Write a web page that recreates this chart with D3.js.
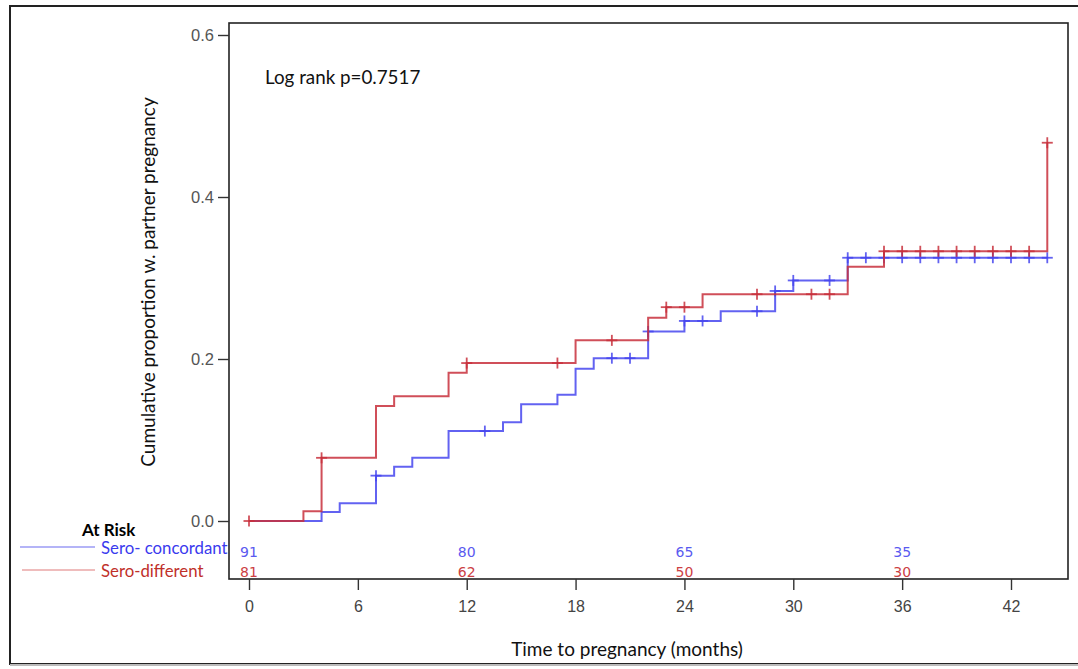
<!DOCTYPE html>
<html><head><meta charset="utf-8">
<script src="https://cdn.jsdelivr.net/npm/d3@7"></script>
<style>body{margin:0;background:#fff}svg{display:block}</style>
</head><body>
<svg id="c" width="1078" height="669"></svg>
<script>
// ---- data ----
const blueTimes = [0,4,5,7,8,9,11,14,15,17,18,19,22,24,26,29,30,33];
const blueVals  = [0,0.011,0.022,0.056,0.067,0.078,0.111,0.122,0.144,0.156,0.188,0.201,0.234,0.247,0.259,0.284,0.297,0.325];
const blueEnd = 44;
const blueCensor = [7,13,20,21,22,24,25,28,29,30,32,33,34,35,36,37,38,39,40,41,42,43,44];

const redTimes = [0,3,4,7,8,11,12,18,22,23,25,33,35,44];
const redVals  = [0,0.012,0.078,0.142,0.154,0.183,0.195,0.223,0.251,0.264,0.280,0.314,0.333,0.467];
const redEnd = 44;
const redCensor = [0,4,12,17,20,23,24,28,31,32,35,36,37,38,39,40,41,42,43,44];

const xTicks = [0,6,12,18,24,30,36,42];
const yTicks = [0,0.2,0.4,0.6];
const riskTimes = [0,12,24,36];
const riskBlue = [91,80,65,35];
const riskRed = [81,62,50,30];
const groupNames = ["Sero- concordant","Sero-different"];
const pText = "Log rank p=0.7517";

// ---- layout ----
const svg = d3.select("#c");
const L=229, R=1068, T=23, B=579;
const x = d3.scaleLinear().domain([0,42]).range([249,1011]);
const y = d3.scaleLinear().domain([0,0.6]).range([521,35]);
const BLUE="#4646ee", RED="#c8303c";
const TF = "Lato, Open Sans, sans-serif";

// outer border
svg.append("rect").attr("x",10).attr("y",6).attr("width",1080).attr("height",658)
  .attr("fill","none").attr("stroke","#222").attr("stroke-width",2);
svg.append("line").attr("x1",10).attr("x2",1078).attr("y1",665).attr("y2",665).attr("stroke","#bbb").attr("stroke-width",2);
// plot frame
svg.append("rect").attr("x",L).attr("y",T).attr("width",R-L).attr("height",B-T)
  .attr("fill","none").attr("stroke","#222").attr("stroke-width",1.6);

// axes
const yAxis = d3.axisLeft(y).tickValues(yTicks).tickFormat(d3.format(".1f")).tickSize(11).tickPadding(4);
const gy = svg.append("g").attr("transform",`translate(${L},0)`).call(yAxis);
gy.select(".domain").remove();
gy.selectAll("line").attr("stroke","#333").attr("stroke-width",1.4);
gy.selectAll("text").attr("font-family","Liberation Sans, Arial, sans-serif").attr("font-size",16.5).attr("fill","#555");

const xAxis = d3.axisBottom(x).tickValues(xTicks).tickSize(11).tickPadding(11);
const gx = svg.append("g").attr("transform",`translate(0,${B})`).call(xAxis);
gx.select(".domain").remove();
gx.selectAll("line").attr("stroke","#333").attr("stroke-width",1.4);
gx.selectAll("text").attr("font-family","Liberation Sans, Arial, sans-serif").attr("font-size",16).attr("fill","#444");

// titles
svg.append("text").attr("x",627).attr("y",656).attr("text-anchor","middle")
  .attr("font-family",TF).attr("font-size",19).attr("fill","#111")
  .text("Time to pregnancy (months)");
svg.append("text").attr("transform","translate(155,282) rotate(-90)").attr("text-anchor","middle")
  .attr("font-family",TF).attr("font-size",19).attr("fill","#111")
  .text("Cumulative proportion w. partner pregnancy");
svg.append("text").attr("x",265).attr("y",84)
  .attr("font-family",TF).attr("font-size",18.8).attr("fill","#111")
  .text(pText);

// step curves
function stepPts(times, vals, end){
  const pts = times.map((t,i)=>[t,vals[i]]);
  pts.push([end, vals[vals.length-1]]);
  return pts;
}
function valAt(times, vals, t){
  let v = vals[0];
  for(let i=0;i<times.length;i++) if(times[i]<=t) v=vals[i];
  return v;
}
const line = d3.line().x(d=>x(d[0])).y(d=>y(d[1])).curve(d3.curveStepAfter);
function drawCurve(times, vals, end, cens, color){
  svg.append("path").datum(stepPts(times, vals, end)).attr("d",line)
    .attr("fill","none").attr("stroke",color).attr("stroke-width",2).attr("stroke-opacity",0.85);
  const g = svg.append("g").attr("stroke",color).attr("stroke-width",1.8).attr("stroke-opacity",0.85);
  cens.forEach(t=>{
    const cx=x(t), cy=y(valAt(times, vals, t));
    g.append("line").attr("x1",cx-5.5).attr("x2",cx+5.5).attr("y1",cy).attr("y2",cy);
    g.append("line").attr("x1",cx).attr("x2",cx).attr("y1",cy-5.5).attr("y2",cy+5.5);
  });
}
drawCurve(blueTimes, blueVals, blueEnd, blueCensor, BLUE);
drawCurve(redTimes, redVals, redEnd, redCensor, RED);

// at-risk
const rf = "DejaVu Sans, Verdana, sans-serif";
riskTimes.forEach((t,i)=>{
  svg.append("text").attr("x",x(t)).attr("y",557).attr("text-anchor","middle").attr("font-family",rf).attr("font-size",14).attr("fill","#5a5af0").text(riskBlue[i]);
  svg.append("text").attr("x",x(t)).attr("y",577).attr("text-anchor","middle").attr("font-family",rf).attr("font-size",14).attr("fill","#cc4044").text(riskRed[i]);
});

// legend
svg.append("text").attr("x",82).attr("y",536).attr("font-family",TF)
  .attr("font-weight","bold").attr("font-size",17).attr("fill","#000").text("At Risk");
svg.append("line").attr("x1",20).attr("x2",95).attr("y1",547).attr("y2",547).attr("stroke","#6b6bf0").attr("stroke-width",1.2);
svg.append("line").attr("x1",22).attr("x2",95).attr("y1",570).attr("y2",570).attr("stroke","#e07a7a").attr("stroke-width",1.2);
svg.append("text").attr("x",101).attr("y",554).attr("font-family",TF).attr("font-size",16.8).attr("fill","#3a3aee").text(groupNames[0]);
svg.append("text").attr("x",101).attr("y",577).attr("font-family",TF).attr("font-size",16.8).attr("fill","#c0302a").text(groupNames[1]);
</script>
</body></html>
